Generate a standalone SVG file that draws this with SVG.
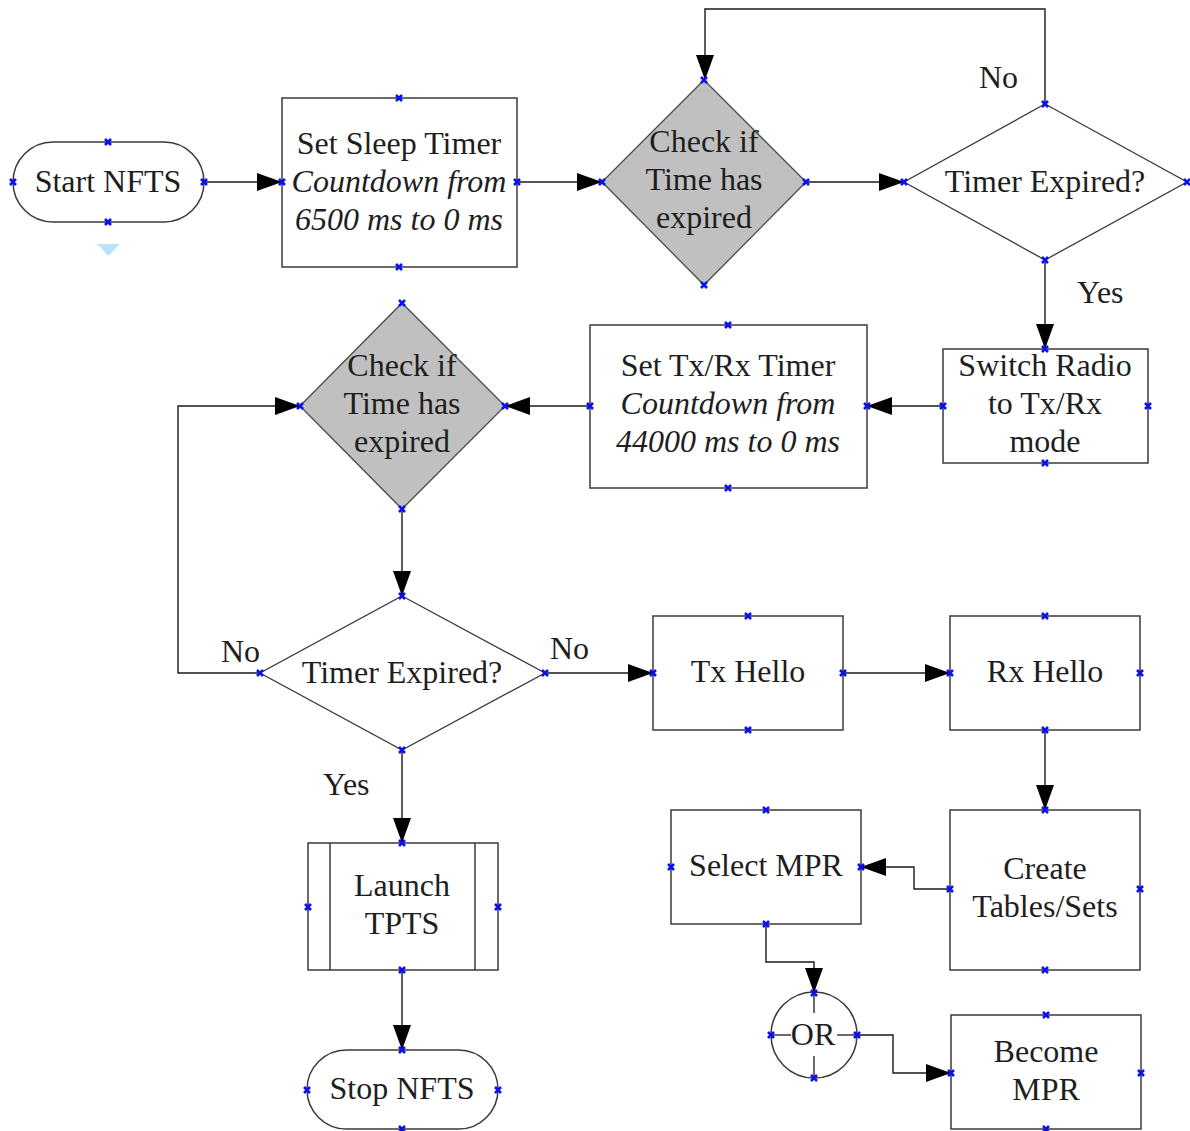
<svg xmlns="http://www.w3.org/2000/svg" xmlns:xlink="http://www.w3.org/1999/xlink" width="1190" height="1131" viewBox="0 0 1190 1131">
  <style>
    .shape { fill: #ffffff; stroke: #3a3a3a; stroke-width: 1.5; }
    .decision { fill: #c0c0c0; stroke: #4a4a4a; stroke-width: 1.3; }
    .plain { fill: #ffffff; stroke: #3a3a3a; stroke-width: 1.3; }
    .inner { fill: none; stroke: #3a3a3a; stroke-width: 1.5; }
    .flow { fill: none; stroke: #1a1a1a; stroke-width: 1.4; marker-end: url(#arrow); }
    text { font-family: "Liberation Serif", "Times New Roman", serif; font-size: 32px; fill: #1e1e1e; text-anchor: middle; }
    .it { font-style: italic; }
    .lbl { text-anchor: start; }
    .pin { fill: none; stroke: #0a10f0; stroke-width: 2.6; }
  </style>
  <defs>
    <marker id="arrow" markerUnits="userSpaceOnUse" markerWidth="26" markerHeight="18" refX="25" refY="9" orient="auto">
      <path d="M0,0 L25,9 L0,18 Z" fill="#000000"/>
    </marker>
    <symbol id="pin" overflow="visible">
      <path class="pin" d="M-3,-3 L3,3 M-3,3 L3,-3"/>
    </symbol>
  </defs>

  <rect width="1190" height="1131" fill="#ffffff"/>

  <!-- connectors -->
  <g id="connectors">
    <path class="flow" d="M204,182 H282"/>
    <path class="flow" d="M517,182 H602"/>
    <path class="flow" d="M806,182 H904"/>
    <path class="flow" d="M1045,104 V9 H705 V80"/>
    <path class="flow" d="M1045,260 V349"/>
    <path class="flow" d="M943,406 H867"/>
    <path class="flow" d="M590,406 H505"/>
    <path class="flow" d="M402,509 V596"/>
    <path class="flow" d="M260,673 H178 V406 H300"/>
    <path class="flow" d="M545,673 H653"/>
    <path class="flow" d="M843,673 H950"/>
    <path class="flow" d="M1045,730 V810"/>
    <path class="flow" d="M950,889 H914 V867 H861"/>
    <path class="flow" d="M766,924 V962 H814 V993"/>
    <path class="flow" d="M857,1035 H893 V1073 H951"/>
    <path class="flow" d="M402,750 V843"/>
    <path class="flow" d="M402,970 V1050"/>
    <text class="lbl" x="979" y="88">No</text>
    <text class="lbl" x="1077" y="303">Yes</text>
    <text class="lbl" x="221" y="662">No</text>
    <text class="lbl" x="550" y="659">No</text>
    <text class="lbl" x="323" y="795">Yes</text>
  </g>

  <!-- start terminator -->
  <g id="start">
    <rect class="shape" x="13" y="142" width="191" height="80" rx="40" ry="40"/>
    <text x="108" y="192">Start NFTS</text>
    <path d="M97,244 L120,244 L108.5,256 Z" fill="#b9e3fb"/>
    <use href="#pin" x="108" y="142"/><use href="#pin" x="108" y="222"/>
    <use href="#pin" x="13" y="182"/><use href="#pin" x="204" y="182"/>
  </g>

  <g id="sleep-timer">
    <rect class="shape" x="282" y="98" width="235" height="169"/>
    <text x="399" y="154">Set Sleep Timer</text>
    <text class="it" x="399" y="192">Countdown from</text>
    <text class="it" x="399" y="230">6500 ms to 0 ms</text>
    <use href="#pin" x="399" y="98"/><use href="#pin" x="399" y="267"/>
    <use href="#pin" x="282" y="182"/><use href="#pin" x="517" y="182"/>
  </g>

  <g id="check-sleep">
    <polygon class="decision" points="704,80 806,182 704,285 602,182"/>
    <text x="704" y="152">Check if</text>
    <text x="704" y="190">Time has</text>
    <text x="704" y="228">expired</text>
    <use href="#pin" x="704" y="80"/><use href="#pin" x="704" y="285"/>
    <use href="#pin" x="602" y="182"/><use href="#pin" x="806" y="182"/>
  </g>

  <g id="sleep-expired">
    <polygon class="plain" points="1045,104 1187,182 1045,260 904,182"/>
    <text x="1045" y="192">Timer Expired?</text>
    <use href="#pin" x="1045" y="104"/><use href="#pin" x="1045" y="260"/>
    <use href="#pin" x="904" y="182"/><use href="#pin" x="1187" y="182"/>
  </g>

  <g id="switch-radio">
    <rect class="shape" x="943" y="349" width="205" height="114"/>
    <text x="1045" y="376">Switch Radio</text>
    <text x="1045" y="414">to Tx/Rx</text>
    <text x="1045" y="452">mode</text>
    <use href="#pin" x="1045" y="349"/><use href="#pin" x="1045" y="463"/>
    <use href="#pin" x="943" y="406"/><use href="#pin" x="1148" y="406"/>
  </g>

  <g id="txrx-timer">
    <rect class="shape" x="590" y="325" width="277" height="163"/>
    <text x="728" y="376">Set Tx/Rx Timer</text>
    <text class="it" x="728" y="414">Countdown from</text>
    <text class="it" x="728" y="452">44000 ms to 0 ms</text>
    <use href="#pin" x="728" y="325"/><use href="#pin" x="728" y="488"/>
    <use href="#pin" x="590" y="406"/><use href="#pin" x="867" y="406"/>
  </g>

  <g id="check-txrx">
    <polygon class="decision" points="402,303 505,406 402,509 300,406"/>
    <text x="402" y="376">Check if</text>
    <text x="402" y="414">Time has</text>
    <text x="402" y="452">expired</text>
    <use href="#pin" x="402" y="303"/><use href="#pin" x="402" y="509"/>
    <use href="#pin" x="300" y="406"/><use href="#pin" x="505" y="406"/>
  </g>

  <g id="txrx-expired">
    <polygon class="plain" points="402,596 545,673 402,750 260,673"/>
    <text x="402" y="683">Timer Expired?</text>
    <use href="#pin" x="402" y="596"/><use href="#pin" x="402" y="750"/>
    <use href="#pin" x="260" y="673"/><use href="#pin" x="545" y="673"/>
  </g>

  <g id="tx-hello">
    <rect class="shape" x="653" y="616" width="190" height="114"/>
    <text x="748" y="682">Tx Hello</text>
    <use href="#pin" x="748" y="616"/><use href="#pin" x="748" y="730"/>
    <use href="#pin" x="653" y="673"/><use href="#pin" x="843" y="673"/>
  </g>

  <g id="rx-hello">
    <rect class="shape" x="950" y="616" width="190" height="114"/>
    <text x="1045" y="682">Rx Hello</text>
    <use href="#pin" x="1045" y="616"/><use href="#pin" x="1045" y="730"/>
    <use href="#pin" x="950" y="673"/><use href="#pin" x="1140" y="673"/>
  </g>

  <g id="create-tables">
    <rect class="shape" x="950" y="810" width="190" height="160"/>
    <text x="1045" y="879">Create</text>
    <text x="1045" y="917">Tables/Sets</text>
    <use href="#pin" x="1045" y="810"/><use href="#pin" x="1045" y="970"/>
    <use href="#pin" x="950" y="889"/><use href="#pin" x="1140" y="889"/>
  </g>

  <g id="select-mpr">
    <rect class="shape" x="671" y="810" width="190" height="114"/>
    <text x="766" y="876">Select MPR</text>
    <use href="#pin" x="766" y="810"/><use href="#pin" x="766" y="924"/>
    <use href="#pin" x="671" y="867"/><use href="#pin" x="861" y="867"/>
  </g>

  <g id="or-junction">
    <circle class="shape" cx="814" cy="1035" r="43"/>
    <path class="inner" d="M814,992 V1013 M814,1056 V1078 M771,1035 H791 M837,1035 H857"/>
    <text x="813" y="1045">OR</text>
    <use href="#pin" x="814" y="993"/><use href="#pin" x="814" y="1078"/>
    <use href="#pin" x="771" y="1035"/><use href="#pin" x="857" y="1035"/>
  </g>

  <g id="become-mpr">
    <rect class="shape" x="951" y="1015" width="190" height="114"/>
    <text x="1046" y="1062">Become</text>
    <text x="1046" y="1100">MPR</text>
    <use href="#pin" x="1046" y="1015"/><use href="#pin" x="1046" y="1129"/>
    <use href="#pin" x="951" y="1073"/><use href="#pin" x="1141" y="1073"/>
  </g>

  <g id="launch-tpts">
    <rect class="shape" x="308" y="843" width="190" height="127"/>
    <path class="inner" d="M330,843 V970 M475,843 V970"/>
    <text x="402" y="896">Launch</text>
    <text x="402" y="934">TPTS</text>
    <use href="#pin" x="402" y="843"/><use href="#pin" x="402" y="970"/>
    <use href="#pin" x="308" y="907"/><use href="#pin" x="498" y="907"/>
  </g>

  <g id="stop">
    <rect class="shape" x="307" y="1050" width="191" height="79" rx="39.5" ry="39.5"/>
    <text x="402" y="1099">Stop NFTS</text>
    <use href="#pin" x="402" y="1050"/><use href="#pin" x="402" y="1129"/>
    <use href="#pin" x="307" y="1090"/><use href="#pin" x="498" y="1090"/>
  </g>
</svg>
